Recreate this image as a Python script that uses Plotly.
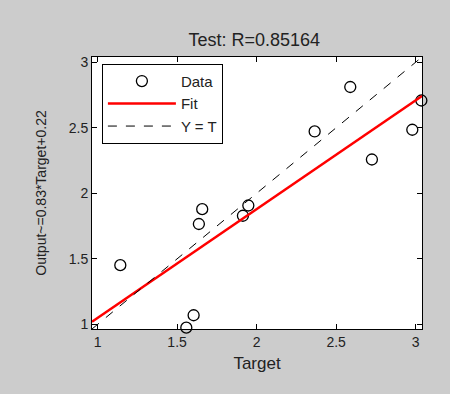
import plotly.graph_objects as go

# Data
targets = [1.143, 1.558, 1.604, 1.637, 1.658, 1.914, 1.948, 2.365, 2.589, 2.725, 2.979, 3.036]
outputs = [1.452, 0.975, 1.070, 1.766, 1.879, 1.829, 1.907, 2.472, 2.811, 2.258, 2.485, 2.708]
fit_slope = 0.83
fit_intercept = 0.22
r_value = "0.85164"
tick_vals = [1, 1.5, 2, 2.5, 3]
tick_text = ["1", "1.5", "2", "2.5", "3"]

lo = min(min(targets), min(outputs)) - 0.01
hi = max(max(targets), max(outputs)) + 0.004
lim = [lo, hi]

fig = go.Figure()
fig.add_trace(go.Scatter(
    x=targets, y=outputs, mode="markers", name="Data",
    marker=dict(symbol="circle-open", size=11, color="black", line=dict(width=1.3)),
    cliponaxis=False,
))
fig.add_trace(go.Scatter(
    x=lim, y=[fit_slope * v + fit_intercept for v in lim], mode="lines", name="Fit",
    line=dict(color="#ff0000", width=2.5),
))
fig.add_trace(go.Scatter(
    x=lim, y=lim, mode="lines", name="Y = T",
    line=dict(color="black", width=1, dash="dash"),
))

font = "Liberation Sans, Arial, sans-serif"
axis_common = dict(
    range=lim, tickvals=tick_vals, ticktext=tick_text,
    ticks="inside", ticklen=5, tickcolor="black", tickwidth=1,
    showline=True, linecolor="black", linewidth=1, mirror="ticks",
    showgrid=False, zeroline=False,
    tickfont=dict(family=font, size=14, color="#222222"),
)

fig.update_layout(
    width=450, height=394,
    paper_bgcolor="#cccccc", plot_bgcolor="white",
    margin=dict(l=92, r=28, t=57, b=65),
    title=dict(text="Test: R=" + r_value, x=0.565, xanchor="center", y=0.9, yanchor="middle",
               font=dict(family=font, size=18, color="#222222")),
    xaxis=dict(axis_common, title=dict(text="Target", standoff=8,
               font=dict(family=font, size=17, color="#222222"))),
    yaxis=dict(axis_common, title=dict(text="Output~=0.83*Target+0.22", standoff=18,
               font=dict(family=font, size=14, color="#222222"))),
    legend=dict(x=0.03, y=0.975, xanchor="left", yanchor="top",
                bgcolor="white", bordercolor="black", borderwidth=1,
                font=dict(family=font, size=15, color="#222222"),
                itemwidth=68, tracegroupgap=0),
    showlegend=True,
)

fig.write_html("out.html", config={"displayModeBar": False},
               post_script="document.body.style.margin='0';")
